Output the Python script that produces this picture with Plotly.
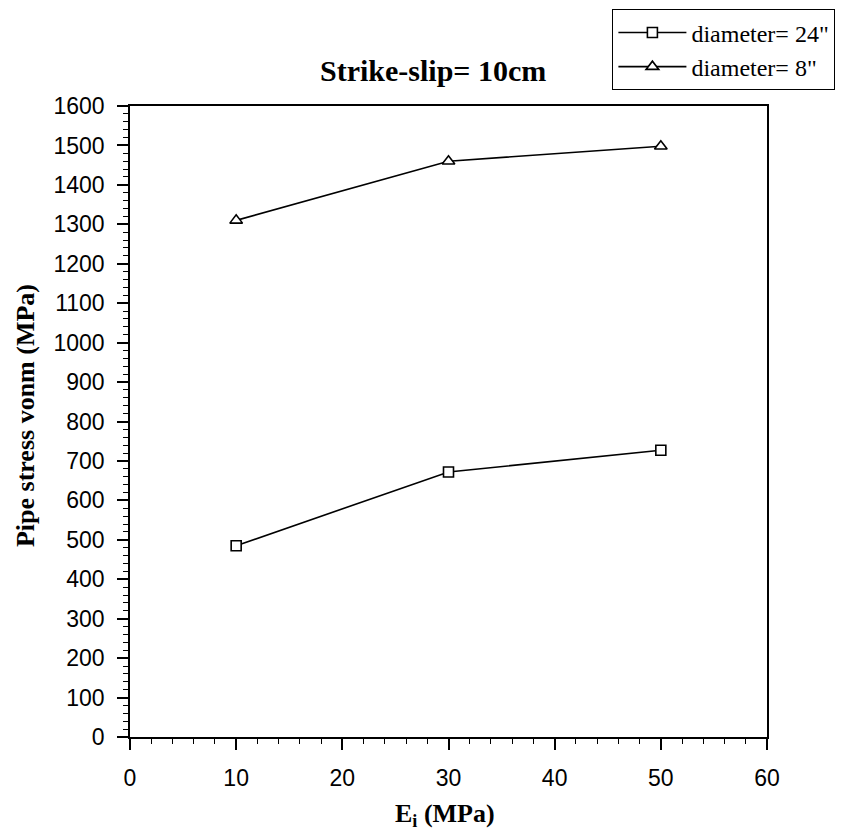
import plotly.graph_objects as go

# Interface stiffness E_i (MPa)
e_i = [10, 30, 50]

# Von Mises pipe stress (MPa) for a 10 cm strike-slip offset
stress_d24 = [485, 672, 727]
stress_d8 = [1310, 1460, 1498]

series_names = ['diameter= 24"', 'diameter= 8"']

x_ticks = [0, 10, 20, 30, 40, 50, 60]
y_ticks = list(range(0, 1601, 100))

SERIF = "Liberation Serif, Times New Roman, serif"
SANS = "Liberation Sans, Arial, sans-serif"

fig = go.Figure()
fig.add_trace(go.Scatter(
    x=e_i, y=stress_d24, name=series_names[0], mode="lines+markers",
    line=dict(color="black", width=1.6),
    marker=dict(symbol="square", size=10, color="white",
                line=dict(color="black", width=1.6)),
))
fig.add_trace(go.Scatter(
    x=e_i, y=stress_d8, name=series_names[1], mode="lines+markers",
    line=dict(color="black", width=1.6),
    marker=dict(symbol="triangle-up", size=11, color="white",
                line=dict(color="black", width=1.6)),
))

axis_common = dict(
    showline=True, linecolor="black", linewidth=1.5, mirror=True,
    showgrid=False, zeroline=False,
    ticks="outside", ticklen=11, tickwidth=1.5, tickcolor="black",
    tickfont=dict(family=SANS, size=23, color="black"),
)

fig.update_xaxes(
    range=[0, 60], tickvals=x_ticks, ticklabelstandoff=9,
    minor=dict(ticks="outside", ticklen=5, tickwidth=1.2,
               tickcolor="black", dtick=2),
    **axis_common,
)
fig.update_yaxes(
    range=[0, 1600], tickvals=y_ticks, ticklabelstandoff=8,
    minor=dict(ticks="outside", ticklen=5, tickwidth=1.2,
               tickcolor="black", dtick=20),
    **axis_common,
)

fig.update_layout(
    width=845, height=839,
    margin=dict(l=130, r=78, t=106, b=102, autoexpand=False),
    paper_bgcolor="white", plot_bgcolor="white",
    showlegend=True,
    legend=dict(
        x=0.757, y=1.1535, xanchor="left", yanchor="top",
        bordercolor="black", borderwidth=1.2, bgcolor="white",
        font=dict(family=SERIF, size=24, color="black"),
        tracegroupgap=0, itemwidth=68,
    ),
    annotations=[
        dict(text="<b>Strike-slip= 10cm</b>", xref="paper", yref="paper",
             x=0.475, y=1.056, xanchor="center", yanchor="middle",
             showarrow=False, font=dict(family=SERIF, size=30, color="black")),
        dict(text="<b>E<sub>i</sub> (MPa)</b>", xref="paper", yref="paper",
             x=0.4945, y=-0.124, xanchor="center", yanchor="middle",
             showarrow=False, font=dict(family=SERIF, size=26, color="black")),
        dict(text="<b>Pipe stress vonm (MPa)</b>", xref="paper", yref="paper",
             x=-0.165, y=0.51, xanchor="center", yanchor="middle",
             textangle=-90, showarrow=False,
             font=dict(family=SERIF, size=26, color="black")),
    ],
)

fig.write_html("out.html")
